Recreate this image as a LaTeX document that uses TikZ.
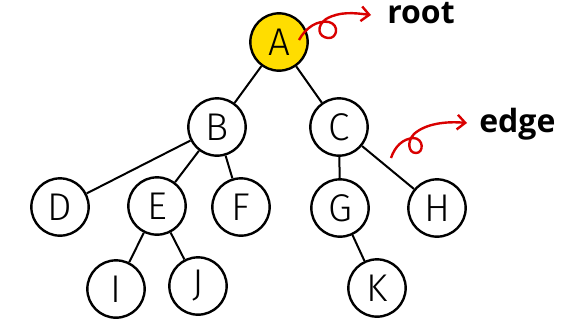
\documentclass[tikz,border=0pt]{standalone}
\usepackage{fontspec}
\setmainfont{Liberation Sans}
\newfontfamily\labfont{Open Sans}
\newfontfamily\nodefont{Fira Sans Light}
\usetikzlibrary{arrows.meta}
\begin{document}
\begin{tikzpicture}[x=0.75pt,y=-0.75pt,
  tnode/.style={circle,draw=black,line width=1.8pt,fill=white,minimum size=43pt,inner sep=0pt,font=\nodefont\fontsize{29}{29}\selectfont},
  tedge/.style={line width=1.5pt,black},
  redarrow/.style={draw=red!85!black,line width=1.8pt,-{Straight Barb[length=6pt,width=11pt,line width=1.8pt]}},
  lab/.style={font=\labfont\bfseries\fontsize{24}{24}\selectfont,inner sep=0pt}]
\useasboundingbox (0,0) rectangle (571,326);
\node[tnode,fill={rgb,255:red,255;green,221;blue,0}] (A) at (279,42) {A};
\node[tnode] (B) at (217,127) {B};
\node[tnode] (C) at (339,127) {C};
\node[tnode] (D) at (60,207) {D};
\node[tnode] (E) at (157,206) {E};
\node[tnode] (F) at (241,207) {F};
\node[tnode] (G) at (340,208) {G};
\node[tnode] (H) at (437,208) {H};
\node[tnode] (I) at (116,289) {I};
\node[tnode] (J) at (198,286) {J};
\node[tnode] (K) at (377,288) {K};
\draw[tedge] (A) -- (B);
\draw[tedge] (A) -- (C);
\draw[tedge] (B) -- (D);
\draw[tedge] (B) -- (E);
\draw[tedge] (B) -- (F);
\draw[tedge] (E) -- (I);
\draw[tedge] (E) -- (J);
\draw[tedge] (C) -- (G);
\draw[tedge] (C) -- (H);
\draw[tedge] (G) -- (K);
\node[lab,anchor=west] (root) at (387,13) {root};
\node[lab,anchor=west] (edge) at (479,124) {edge};
\coordinate (rs) at (299,40);
\coordinate (es) at (391,158);
\draw[redarrow] (rs) .. controls (306,27) and (318,20) .. (329,22)
  .. controls (340,25) and (337,39) .. (328,38)
  .. controls (318,37) and (316,26) .. (326,19)
  .. controls (340,11) and (355,13) .. (371,15);
\draw[redarrow] (es) .. controls (395,146) and (403,139) .. (413,138)
  .. controls (424,138) and (424,153) .. (416,153)
  .. controls (408,153) and (407,141) .. (414,134)
  .. controls (425,124) and (445,121) .. (467,123);
\end{tikzpicture}
\end{document}
